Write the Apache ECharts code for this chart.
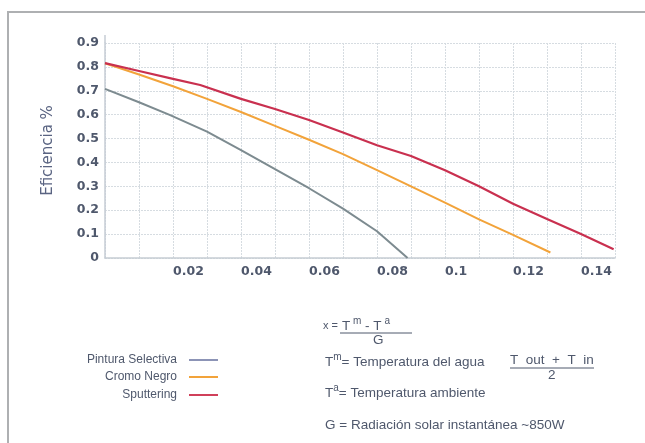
<!DOCTYPE html>
<html>
<head>
<meta charset="utf-8">
<script src="https://cdn.jsdelivr.net/npm/echarts@6/dist/echarts.min.js"></script>
<style>
  html, body { margin: 0; padding: 0; background: #ffffff; }
  #chart { width: 645px; height: 443px; }
</style>
</head>
<body>
<div id="chart"></div>
<script>
// ---- Data ----
const seriesNames = ['Pintura Selectiva', 'Cromo Negro', 'Sputtering'];

const selectivaX = [0, 0.01, 0.019, 0.03, 0.04, 0.05, 0.06, 0.07, 0.08, 0.089];
const selectivaY = [0.708, 0.652, 0.599, 0.529, 0.452, 0.372, 0.292, 0.207, 0.112, 0.0];

const cromoX = [0, 0.01, 0.02, 0.03, 0.04, 0.05, 0.06, 0.07, 0.08, 0.09, 0.10, 0.11, 0.12, 0.131];
const cromoY = [0.815, 0.768, 0.719, 0.666, 0.611, 0.553, 0.495, 0.435, 0.368, 0.30, 0.232, 0.162, 0.097, 0.023];

const sputterX = [0, 0.01, 0.02, 0.028, 0.04, 0.05, 0.06, 0.07, 0.08, 0.09, 0.10, 0.11, 0.12, 0.13, 0.14, 0.1496];
const sputterY = [0.816, 0.783, 0.75, 0.724, 0.666, 0.624, 0.578, 0.525, 0.472, 0.427, 0.367, 0.30, 0.227, 0.163, 0.10, 0.037];

const xTickLabels = ['0.02', '0.04', '0.06', '0.08', '0.1', '0.12', '0.14'];
const yTickLabels = ['0', '0.1', '0.2', '0.3', '0.4', '0.5', '0.6', '0.7', '0.8', '0.9'];

const zip = (xs, ys) => xs.map((x, i) => [x, ys[i]]);

const colors = { gray: '#7d8b90', orange: '#f2a33a', red: '#c9304f' };
const legendColors = ['#8c94b6', '#f2a33a', '#d0405a'];
const textColor = '#4f586c';
const FS = 13.5;

const chart = echarts.init(document.getElementById('chart'));

function legendFor(i, top) {
  return {
    data: [{ name: seriesNames[i], itemStyle: { color: legendColors[i] } }],
    orient: 'vertical',
    align: 'right',
    right: 427,
    top: top,
    padding: 0,
    itemWidth: 29,
    itemHeight: 2,
    icon: 'rect',
    selectedMode: false,
    textStyle: { fontFamily: 'Liberation Sans', fontSize: 12, color: textColor, padding: [0, 7, 0, 0] }
  };
}

const rich = {
  n: { fontFamily: 'Liberation Sans', fontSize: FS, fill: textColor, verticalAlign: 'bottom', lineHeight: 17 },
  s: { fontFamily: 'Liberation Sans', fontSize: 10, fill: textColor, verticalAlign: 'top', lineHeight: 17 }
};

function txt(x, y, str, size) {
  return {
    type: 'text', left: x, top: y,
    style: { text: str, fontFamily: 'Liberation Sans', fontSize: size || FS, fill: textColor }
  };
}

const option = {
  backgroundColor: '#ffffff',
  animation: false,
  grid: { left: 105, right: 30, top: 43, bottom: 185, containLabel: false },
  legend: [legendFor(0, 354), legendFor(1, 371), legendFor(2, 389)],
  xAxis: {
    type: 'value', min: 0, max: 0.15, interval: 0.01,
    axisLine: { lineStyle: { color: '#c6cdd4', width: 1.5 } },
    axisTick: { show: false },
    splitLine: { show: true, lineStyle: { color: '#d6dce1', type: [2, 1] } },
    axisLabel: {
      align: 'left', margin: 7,
      fontFamily: 'DejaVu Sans', fontWeight: 'bold', fontSize: 12.5, color: textColor,
      formatter: function (v) {
        const k = Math.round(v * 100);
        if (k > 0 && k % 2 === 0) return xTickLabels[k / 2 - 1] || '';
        return '';
      }
    }
  },
  yAxis: {
    type: 'value', min: 0, max: 0.9, interval: 0.1,
    name: 'Eficiencia %', nameLocation: 'middle', nameGap: 49, nameRotate: 90,
    nameTextStyle: { fontFamily: 'DejaVu Sans', fontSize: 15, color: '#5a6482' },
    axisLine: { show: true, lineStyle: { color: '#c6cdd4', width: 1.5 } },
    axisTick: { show: false },
    splitLine: { show: true, lineStyle: { color: '#d6dce1', type: [2, 1] } },
    axisLabel: {
      margin: 6,
      fontFamily: 'DejaVu Sans', fontWeight: 'bold', fontSize: 12.5, color: textColor,
      formatter: function (v) { return yTickLabels[Math.round(v * 10)]; }
    }
  },
  series: [
    { name: seriesNames[0], type: 'line', data: zip(selectivaX, selectivaY), showSymbol: false,
      lineStyle: { color: colors.gray, width: 2 }, itemStyle: { color: colors.gray } },
    { name: seriesNames[1], type: 'line', data: zip(cromoX, cromoY), showSymbol: false,
      lineStyle: { color: colors.orange, width: 2 }, itemStyle: { color: colors.orange } },
    { name: seriesNames[2], type: 'line', data: zip(sputterX, sputterY), showSymbol: false,
      lineStyle: { color: colors.red, width: 2.2 }, itemStyle: { color: colors.red } }
  ],
  graphic: [
    { type: 'polyline', shape: { points: [[8, 460], [8, 12], [660, 12]] },
      style: { stroke: '#aeb0b2', lineWidth: 2, fill: 'none' }, silent: true },
    { type: 'line', shape: { x1: 105, y1: 35, x2: 105, y2: 43 }, style: { stroke: '#c6cdd4', lineWidth: 1.5 }, silent: true },
    // formula
    txt(323, 320, 'x =', 11),
    { type: 'text', left: 342, top: 316, style: { text: '{n|T}{s| m}{n| - T}{s| a}', rich: rich } },
    { type: 'line', shape: { x1: 340, y1: 333, x2: 412, y2: 333 }, style: { stroke: textColor, lineWidth: 1 } },
    txt(373, 333, 'G'),
    // definitions
    { type: 'text', left: 325, top: 352, style: { text: '{n|T}{s|m}{n|= Temperatura del agua}', rich: rich } },
    txt(510, 353, 'T  out  +  T  in'),
    { type: 'line', shape: { x1: 510, y1: 368, x2: 594, y2: 368 }, style: { stroke: textColor, lineWidth: 1 } },
    txt(548, 368, '2'),
    { type: 'text', left: 325, top: 383, style: { text: '{n|T}{s|a}{n|= Temperatura ambiente}', rich: rich } },
    txt(325, 418, 'G = Radiación solar instantánea ~850W')
  ]
};

chart.setOption(option);
</script>
</body>
</html>
